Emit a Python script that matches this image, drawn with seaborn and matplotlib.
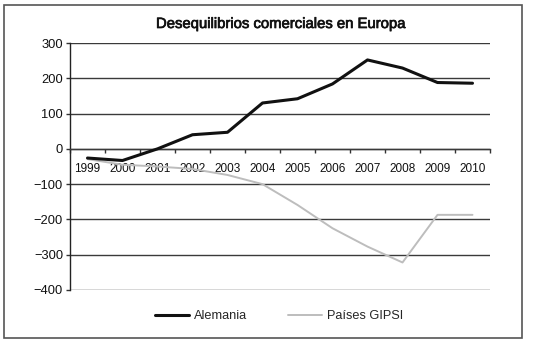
import matplotlib
matplotlib.use("Agg")
import matplotlib.pyplot as plt
import matplotlib.patheffects as pe
import seaborn as sns
import pandas as pd
import numpy as np
from matplotlib.patches import Rectangle

years = ["1999", "2000", "2001", "2002", "2003", "2004", "2005", "2006", "2007", "2008", "2009", "2010"]
alemania = [-26, -33, 0, 40, 47, 130, 142, 184, 252, 229, 188, 186]
gipsi = [-29, -45, -50, -57, -74, -100, -159, -225, -277, -322, -187, -187]
y_ticks = [300, 200, 100, 0, -100, -200, -300, -400]

sns.set_theme(style="white")
plt.rcParams['font.family'] = ['Liberation Sans', 'DejaVu Sans']

fig = plt.figure(figsize=(5.34, 3.42), dpi=100)
ax = fig.add_axes([70/534, 1-290/342, 420/534, 247/342])

idx = np.arange(len(years))
df_a = pd.DataFrame({"x": idx, "y": alemania})
df_g = pd.DataFrame({"x": idx, "y": gipsi})

for yv in y_ticks:
    ax.axhline(yv, color="#3a3a3a", lw=1.0, zorder=1)

sns.lineplot(data=df_a, x="x", y="y", ax=ax, color="#111111", lw=2.2,
             label="Alemania", zorder=3, sort=False)
sns.lineplot(data=df_g, x="x", y="y", ax=ax, color="#bdbdbd", lw=1.4,
             label="Países GIPSI", zorder=2, sort=False)

ax.set_xlim(-0.5, len(years) - 0.5)
ax.set_ylim(-400, 300)
ax.set_yticks(y_ticks)
ax.tick_params(axis="y", labelsize=9.3, length=3, width=1, color="#333333",
               left=True, pad=2, labelcolor="#111111")

ax.spines["top"].set_visible(False)
ax.spines["right"].set_visible(False)
ax.spines["left"].set_color("#222222")
ax.spines["left"].set_linewidth(1.0)
ax.spines["bottom"].set_position(("data", 0))
ax.spines["bottom"].set_color("#3a3a3a")
ax.spines["bottom"].set_linewidth(1.0)

ax.set_xticks(idx)
ax.set_xticklabels(years)
ax.set_xticks(np.arange(-0.5, len(years)), minor=True)
ax.tick_params(axis="x", which="major", length=0, labelsize=8.5, pad=10,
               labelcolor="#111111")
ax.tick_params(axis="x", which="minor", length=3, width=1, color="#333333",
               bottom=True, direction="out")
ax.set_xlabel("")
ax.set_ylabel("")

fig.text(281/534, 1-24/342, "Desequilibrios comerciales en Europa",
         ha="center", va="center", fontsize=10.7, color="#111111",
         path_effects=[pe.withStroke(linewidth=0.5, foreground="#111111")])

leg = ax.legend(loc="center", bbox_to_anchor=(279/534, 1-316/342),
                bbox_transform=fig.transFigure, ncol=2, frameon=False,
                fontsize=9.2, handlelength=2.7, columnspacing=3.2,
                handletextpad=0.35)

fig.patches.append(Rectangle((4/534, 1-338/342), 518/534, 333/342,
                             transform=fig.transFigure, fill=False,
                             edgecolor="#555555", lw=1.2))

fig.savefig("out.png", dpi=100)
